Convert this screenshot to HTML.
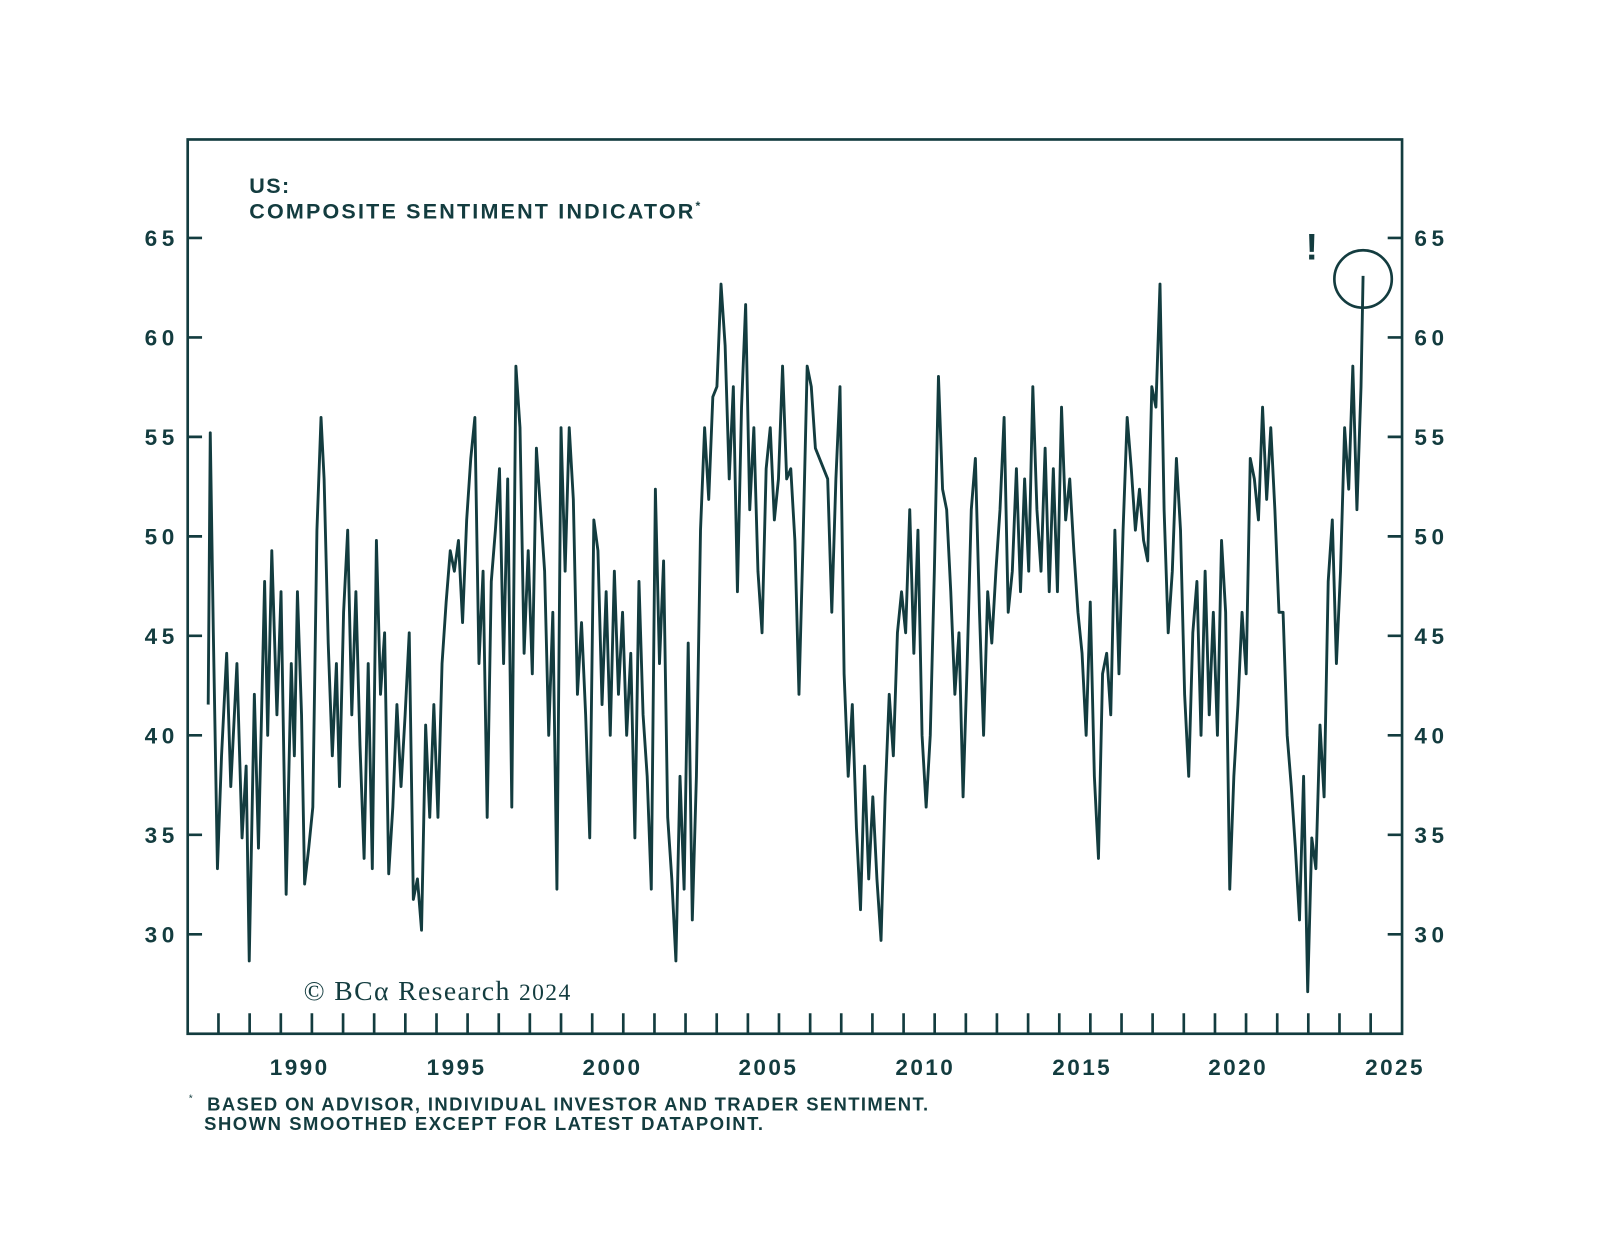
<!DOCTYPE html>
<html><head><meta charset="utf-8"><style>
html,body{margin:0;padding:0;background:#fff;}
svg{display:block;}
text{font-family:"Liberation Sans",sans-serif;fill:#133c3f;}
</style></head><body>
<svg width="1600" height="1244" viewBox="0 0 1560 1213" preserveAspectRatio="none">
<rect x="0" y="0" width="1560" height="1213" fill="#fff"/>
<g stroke="#133c3f" stroke-width="2.6" fill="none">
<rect x="183" y="136" width="1184" height="872"/>
<path d="M183 232h14M183 329h14M183 426h14M183 523h14M183 620h14M183 717h14M183 814h14M183 911h14
M1367 232h-14M1367 329h-14M1367 426h-14M1367 523h-14M1367 620h-14M1367 717h-14M1367 814h-14M1367 911h-14"/>
<path d="M213 1008v-20M243.4 1008v-20M273.8 1008v-20M304.1 1008v-20M334.5 1008v-20M364.8 1008v-20M395.2 1008v-20M425.6 1008v-20M455.9 1008v-20M486.3 1008v-20M516.6 1008v-20M547 1008v-20M577.4 1008v-20M607.7 1008v-20M638.1 1008v-20M668.4 1008v-20M698.8 1008v-20M729.2 1008v-20M759.5 1008v-20M789.9 1008v-20M820.2 1008v-20M850.6 1008v-20M881 1008v-20M911.3 1008v-20M941.7 1008v-20M972 1008v-20M1002.4 1008v-20M1032.8 1008v-20M1063.1 1008v-20M1093.5 1008v-20M1123.8 1008v-20M1154.2 1008v-20M1184.6 1008v-20M1214.9 1008v-20M1245.3 1008v-20M1275.6 1008v-20M1306 1008v-20M1336.4 1008v-20"/>
<circle cx="1329" cy="272" r="28"/>
</g>
<path transform="translate(0,-3)" fill="none" stroke="#133c3f" stroke-width="2.8" stroke-linejoin="round" d="M203 690L205 425L208 620L212 850L216 740L221 640L225 770L231 650L236 820L240 750L243 940L248 680L252 830L258 570L261 720L265 540L270 700L274 580L279 875L284 650L287 740L290 580L294 700L297 865L301 830L305 790L309 520L313 410L316 470L320 630L324 740L328 650L331 770L335 600L339 520L343 700L347 580L351 730L355 840L359 650L363 850L367 530L371 680L375 620L379 855L383 790L387 690L391 770L395 700L399 620L403 880L407 860L411 910L415 710L419 800L423 690L427 800L431 650L435 590L439 540L443 560L447 530L451 610L455 510L459 450L463 410L467 650L471 560L475 800L479 570L483 520L487 460L491 650L495 470L499 790L503 360L507 420L511 640L515 540L519 660L523 440L527 500L531 560L535 720L539 600L543 870L547 420L551 560L555 420L559 490L563 680L567 610L571 700L575 820L579 510L583 540L587 690L591 580L595 720L599 560L603 680L607 600L611 720L615 640L619 820L623 570L627 700L631 760L635 870L639 480L643 650L647 550L651 800L655 860L659 940L663 760L667 870L671 630L675 900L679 760L683 520L687 420L691 490L695 390L699 380L703 280L707 340L711 470L715 380L719 580L723 400L727 300L731 500L735 420L739 560L743 620L747 460L751 420L755 510L759 470L763 360L767 470L771 460L775 530L779 680L783 530L787 360L791 380L795 440L799 450L803 460L807 470L811 600L815 470L819 380L823 660L827 760L831 690L835 810L839 890L843 750L847 860L851 780L855 860L859 920L863 780L867 680L871 740L875 620L879 580L883 620L887 500L891 640L895 520L899 720L903 790L907 720L911 560L915 370L919 480L923 500L927 580L931 680L935 620L939 780L943 650L947 500L951 450L955 600L959 720L963 580L967 630L971 560L975 500L979 410L983 600L987 560L991 460L995 580L999 470L1003 560L1007 380L1011 500L1015 560L1019 440L1023 580L1027 460L1031 580L1035 400L1039 510L1043 470L1047 540L1051 600L1055 640L1059 720L1063 590L1067 760L1071 840L1075 660L1079 640L1083 700L1087 520L1091 660L1095 520L1099 410L1103 460L1107 520L1111 480L1115 530L1119 550L1123 380L1127 400L1131 280L1135 500L1139 620L1143 560L1147 450L1151 520L1155 680L1159 760L1163 620L1167 570L1171 720L1175 560L1179 700L1183 600L1187 720L1191 530L1195 600L1199 870L1203 760L1207 690L1211 600L1215 660L1219 450L1223 470L1227 510L1231 400L1235 490L1239 420L1243 500L1247 600L1251 600L1255 720L1259 770L1263 830L1267 900L1271 760L1275 970L1279 820L1283 850L1287 710L1291 780L1295 570L1299 510L1303 650L1307 560L1311 420L1315 480L1319 360L1323 500L1327 380L1329 272"/>
<g font-size="22" font-weight="bold" text-anchor="end">
<text x="170" y="240" textLength="29">65</text><text x="170" y="337" textLength="29">60</text><text x="170" y="434" textLength="29">55</text><text x="170" y="531" textLength="29">50</text><text x="170" y="628" textLength="29">45</text><text x="170" y="725" textLength="29">40</text><text x="170" y="822" textLength="29">35</text><text x="170" y="919" textLength="29">30</text>
</g>
<g font-size="22" font-weight="bold">
<text x="1379" y="240" textLength="29">65</text><text x="1379" y="337" textLength="29">60</text><text x="1379" y="434" textLength="29">55</text><text x="1379" y="531" textLength="29">50</text><text x="1379" y="628" textLength="29">45</text><text x="1379" y="725" textLength="29">40</text><text x="1379" y="822" textLength="29">35</text><text x="1379" y="919" textLength="29">30</text>
</g>
<g font-size="22" font-weight="bold">
<text x="263" y="1048" textLength="56">1990</text><text x="416" y="1048" textLength="56">1995</text><text x="568" y="1048" textLength="56">2000</text><text x="720" y="1048" textLength="56">2005</text><text x="873" y="1048" textLength="56">2010</text><text x="1026" y="1048" textLength="56">2015</text><text x="1178" y="1048" textLength="56">2020</text><text x="1331" y="1048" textLength="56">2025</text>
</g>
<text x="243" y="188" font-size="21" font-weight="bold" textLength="39">US:</text>
<text x="243" y="213" font-size="21" font-weight="bold"><tspan textLength="433">COMPOSITE SENTIMENT INDICATOR</tspan><tspan font-size="12" dy="-8">*</tspan></text>
<text x="1279" y="253" font-size="36" font-weight="bold" text-anchor="middle">!</text>
<text x="296" y="975" font-size="27" style="font-family:'Liberation Serif',serif" textLength="260">© BCα Research <tspan font-size="23">2024</tspan></text>
<text x="184" y="1074" font-size="10">*</text>
<text x="202" y="1083" font-size="18" font-weight="bold" textLength="703">BASED ON ADVISOR, INDIVIDUAL INVESTOR AND TRADER SENTIMENT.</text>
<text x="199" y="1102" font-size="18" font-weight="bold" textLength="545">SHOWN SMOOTHED EXCEPT FOR LATEST DATAPOINT.</text>
</svg>
</body></html>
